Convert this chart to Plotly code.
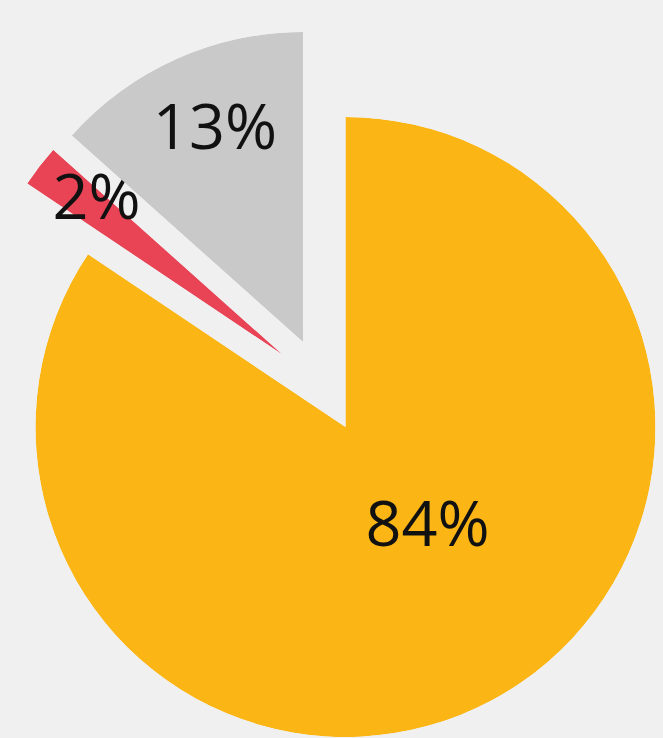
import numpy as np
import plotly.graph_objects as go

# ---------------- data ----------------
VALUES = [84.4, 2.2, 13.4]              # share of each slice (%)
LABEL_TEXT = ["84%", "2%", "13%"]       # printed labels
COLORS = ["#FBB615", "#E84456", "#C9C9C9"]

# ---------------- layout (pixels) ----------------
W, H = 663, 738
SLICE_CENTERS = [(345.5, 427.0), (283.0, 355.0), (303.0, 342.0)]  # exploded apex of each slice
SLICE_RADII = [310.0, 308.0, 310.0]
LABEL_POS = [(141.6, 0.426), (309.1, 0.780), (337.1, 0.730)]      # (theta deg clockwise from top, r fraction)
FONT = "Open Sans"
FONT_SIZE = 63

total = float(sum(VALUES))
spans = [v / total * 360.0 for v in VALUES]
starts = np.concatenate([[0.0], np.cumsum(spans)[:-1]])


def sector_bbox(s0, s1):
    a = np.radians(np.linspace(s0, s1, 4001))
    xs = np.concatenate([[0.0], np.cos(a)])
    ys = np.concatenate([[0.0], np.sin(a)])
    return xs.min(), ys.min(), xs.max(), ys.max()


fig = go.Figure()
layout_polars = {}
for i, (val, txt, col) in enumerate(zip(VALUES, LABEL_TEXT, COLORS)):
    key = "polar" if i == 0 else f"polar{i + 1}"
    t0 = starts[i]
    t1 = t0 + spans[i]
    # sector in math angles (ccw from east); axis has theta 0 at top, clockwise
    s0, s1 = 90.0 - t1, 90.0 - t0
    x0, y0, x1, y1 = sector_bbox(s0, s1)
    cx, cy = SLICE_CENTERS[i]
    R = SLICE_RADII[i]
    left, right = cx + R * x0, cx + R * x1
    top, bottom = cy - R * y1, cy - R * y0
    dom_x = [max(0.0, left / W), min(1.0, right / W)]
    dom_y = [max(0.0, 1 - bottom / H), min(1.0, 1 - top / H)]

    fig.add_trace(go.Barpolar(
        r=[1], theta=[t0 + spans[i] / 2], width=[spans[i]],
        marker=dict(color=col, line=dict(width=0)),
        hoverinfo="skip", subplot=key, showlegend=False,
    ))
    layout_polars[key] = dict(
        domain=dict(x=dom_x, y=dom_y),
        sector=[s0, s1],
        bgcolor="rgba(0,0,0,0)",
        radialaxis=dict(range=[0, 1], visible=False, showgrid=False,
                        showline=False, showticklabels=False, ticks=""),
        angularaxis=dict(rotation=90, direction="clockwise", visible=False,
                         showgrid=False, showline=False, showticklabels=False, ticks=""),
    )

# labels on top
for i, txt in enumerate(LABEL_TEXT):
    key = "polar" if i == 0 else f"polar{i + 1}"
    th, rr = LABEL_POS[i]
    fig.add_trace(go.Scatterpolar(
        r=[rr], theta=[th], mode="text", text=[txt],
        textposition="middle center",
        textfont=dict(family=FONT, size=FONT_SIZE, color="#111111"),
        cliponaxis=False, hoverinfo="skip", subplot=key, showlegend=False,
    ))

fig.update_layout(
    width=W, height=H,
    margin=dict(l=0, r=0, t=0, b=0),
    paper_bgcolor="#F0F0F0",
    plot_bgcolor="#F0F0F0",
    showlegend=False,
    **layout_polars,
)

fig.write_html(
    "out.html",
    config={"displayModeBar": False},
    post_script="document.body.style.margin='0';document.body.style.padding='0';"
                "document.body.style.overflow='hidden';"
                "document.body.style.background='#F0F0F0';",
)
